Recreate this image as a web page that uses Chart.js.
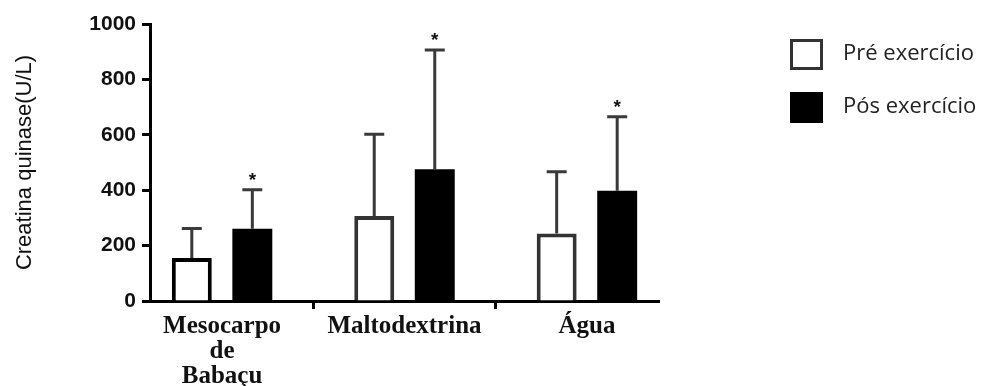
<!DOCTYPE html>
<html>
<head>
<meta charset="utf-8">
<script src="https://cdn.jsdelivr.net/npm/chart.js@4.4.0/dist/chart.umd.min.js"></script>
<style>
  html, body { margin: 0; padding: 0; background: #fff; }
</style>
</head>
<body>
<canvas id="grafico" width="989" height="386"></canvas>
<script>
// dados (média + desvio padrão, só para cima)
const grupos = [['Mesocarpo', 'de', 'Babaçu'], 'Maltodextrina', 'Água'];
const preMedia = [155, 307, 244];
const preDP = [107, 295, 223];
const posMedia = [261, 476, 398];
const posDP = [141, 430, 267];
const posSig = ['*', '*', '*'];
const yTicks = [0, 200, 400, 600, 800, 1000];
const xTicks = [0, 0.5, 1, 1.5, 2];

const toPts = arr => arr.map((v, i) => ({ x: i, y: v }));

const barrasErro = {
    id: 'barrasErro',
    afterDatasetsDraw(chart) {
        const ctx = chart.ctx;
        const y = chart.scales.y;
        ctx.save();
        ctx.strokeStyle = '#3a3a3a';
        ctx.lineWidth = 3;
        chart.data.datasets.forEach((ds, d) => {
            const meta = chart.getDatasetMeta(d);
            meta.data.forEach((bar, i) => {
                const topo = y.getPixelForValue(ds.data[i].y + ds.dp[i]);
                ctx.beginPath();
                ctx.moveTo(bar.x, bar.y);
                ctx.lineTo(bar.x, topo);
                ctx.moveTo(bar.x - 10, topo);
                ctx.lineTo(bar.x + 10, topo);
                ctx.stroke();
                if (ds.sig && ds.sig[i]) {
                    ctx.fillStyle = '#111';
                    ctx.font = 'bold 19px "Liberation Sans"';
                    ctx.textAlign = 'center';
                    ctx.textBaseline = 'alphabetic';
                    ctx.fillText(ds.sig[i], bar.x, topo - 4);
                }
            });
        });
        ctx.restore();
    }
};

const legendaCaixas = {
    id: 'legendaCaixas',
    afterDraw(chart) {
        const ctx = chart.ctx;
        ctx.save();
        chart.data.datasets.forEach((ds, i) => {
            const cy = 54 + i * 53;
            ctx.fillStyle = ds.backgroundColor;
            ctx.fillRect(790, cy - 15, 33, 31);
            if (i === 0) {
                ctx.lineWidth = 3;
                ctx.strokeStyle = '#333';
                ctx.strokeRect(791.5, cy - 13.5, 30, 28);
            }
            ctx.fillStyle = '#222';
            ctx.font = '22px "Open Sans"';
            ctx.textAlign = 'left';
            ctx.textBaseline = 'middle';
            ctx.fillText(ds.label, 843, cy);
        });
        ctx.restore();
    }
};

new Chart(document.getElementById('grafico'), {
    type: 'bar',
    data: {
        datasets: [
            {
                label: 'Pré exercício',
                data: toPts(preMedia),
                dp: preDP,
                backgroundColor: '#ffffff',
                borderColor: ['#000', '#333', '#333'],
                borderWidth: 4,
                borderSkipped: 'bottom'
            },
            {
                label: 'Pós exercício',
                data: toPts(posMedia),
                dp: posDP,
                sig: posSig,
                backgroundColor: '#000000',
                borderWidth: 0
            }
        ]
    },
    options: {
        responsive: false,
        animation: false,
        categoryPercentage: 1.327,
        barPercentage: 0.66,
        layout: { padding: { top: 24, right: 330, bottom: 0, left: 0 } },
        plugins: { legend: { display: false }, tooltip: { enabled: false } },
        scales: {
            x: {
                type: 'linear',
                min: -0.395,
                max: 2.395,
                offset: false,
                afterBuildTicks: s => { s.ticks = xTicks.map(v => ({ value: v })); },
                afterFit: s => { s.height = 85; },
                ticks: {
                    autoSkip: false,
                    maxRotation: 0,
                    minRotation: 0,
                    padding: 5,
                    color: '#111',
                    font: { family: '"Liberation Serif"', size: 25, weight: 'bold', lineHeight: 1.0 },
                    callback: v => Number.isInteger(v) ? grupos[v] : ''
                },
                grid: {
                    drawOnChartArea: false,
                    offset: false,
                    tickLength: 8,
                    tickWidth: 3,
                    tickColor: c => Number.isInteger(c.tick.value) ? 'rgba(0,0,0,0)' : '#000'
                },
                border: { color: '#000', width: 3 }
            },
            y: {
                min: 0,
                max: 1000,
                afterBuildTicks: s => { s.ticks = yTicks.map(v => ({ value: v })); },
                afterFit: s => { s.width = 150; },
                ticks: {
                    padding: 6,
                    color: '#111',
                    font: { family: '"Liberation Sans"', size: 21, weight: 'bold' },
                    callback: v => String(v)
                },
                grid: { drawOnChartArea: false, tickLength: 8, tickWidth: 3, tickColor: '#000' },
                border: { color: '#000', width: 3 },
                title: {
                    display: true,
                    text: 'Creatina quinase(U/L)',
                    color: '#111',
                    font: { family: '"Liberation Sans"', size: 22 },
                    padding: { top: 12, bottom: 0 }
                }
            }
        }
    },
    plugins: [barrasErro, legendaCaixas]
});
</script>
</body>
</html>
